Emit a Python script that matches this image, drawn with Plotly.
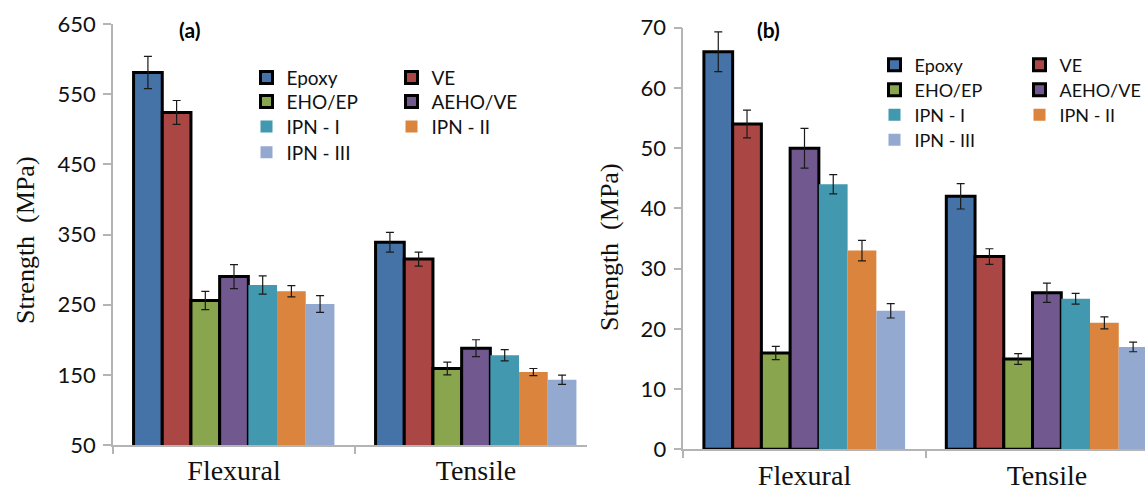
import plotly.graph_objects as go

W, H = 1145, 491

categories = ["Flexural", "Tensile"]
series = ["Epoxy", "VE", "EHO/EP", "AEHO/VE", "IPN - I", "IPN - II", "IPN - III"]
colors = ["#4572A7", "#AA4643", "#89A54E", "#71588F", "#4198AF", "#DB843D", "#93A9CF"]
outlined = [True, True, True, True, False, False, False]

# Panel (a)
a_flexural = [581, 524, 256, 290, 278, 269, 251]
a_flexural_err = [23, 17, 13, 17, 13, 8, 12]
a_tensile = [339, 315, 159, 188, 178, 154, 143]
a_tensile_err = [14, 10, 9, 12, 8, 5, 6.5]

# Panel (b)
b_flexural = [66, 54, 16, 50, 44, 33, 23]
b_flexural_err = [3.3, 2.3, 1.1, 3.3, 1.6, 1.7, 1.2]
b_tensile = [42, 32, 15, 26, 25, 21, 17]
b_tensile_err = [2.1, 1.3, 0.9, 1.6, 0.9, 1.0, 0.8]

a_yticks = [50, 150, 250, 350, 450, 550, 650]
b_yticks = [0, 10, 20, 30, 40, 50, 60, 70]

legend_rows = [0, 0, 1, 1, 2, 2, 3]


def px(x):
    return x / W


def py(y):
    return 1 - y / H


fig = go.Figure()

panels = [
    dict(xa="x", ya="y", flex=a_flexural, flex_err=a_flexural_err,
         tens=a_tensile, tens_err=a_tensile_err, legends=["legend", "legend2", "legend3", "legend4"]),
    dict(xa="x2", ya="y2", flex=b_flexural, flex_err=b_flexural_err,
         tens=b_tensile, tens_err=b_tensile_err, legends=["legend5", "legend6", "legend7", "legend8"]),
]

for p in panels:
    for i, name in enumerate(series):
        fig.add_trace(go.Bar(
            x=categories,
            y=[p["flex"][i], p["tens"][i]],
            name=name,
            xaxis=p["xa"], yaxis=p["ya"],
            legend=p["legends"][legend_rows[i]],
            marker=dict(color=colors[i],
                        line=dict(color="#000000", width=3 if outlined[i] else 0)),
            error_y=dict(type="data", array=[p["flex_err"][i], p["tens_err"][i]],
                         color="#1a1a1a", thickness=1.2, width=4),
        ))

axis_color = "#b4b4b4"
SANS = "Lato, Open Sans, sans-serif"
SERIF = "Liberation Serif, Times New Roman, serif"
tick_font = dict(family=SANS, size=22, color="#111111")
cat_font = dict(family=SERIF, size=28, color="#111111")

common_x = dict(type="category", showline=True, linecolor=axis_color, linewidth=1.5,
                ticks="outside", tickson="boundaries", ticklen=7, tickcolor=axis_color,
                tickwidth=1.5, tickfont=cat_font, showgrid=False, zeroline=False,
                fixedrange=True, automargin=False)
common_y = dict(showline=True, linecolor=axis_color, linewidth=1.5, ticks="outside",
                ticklen=8, tickcolor=axis_color, tickwidth=1.5, tickfont=tick_font,
                ticklabelstandoff=3,
                showgrid=False, zeroline=False, fixedrange=True, automargin=False)

fig.update_layout(
    template="none",
    width=W, height=H,
    margin=dict(l=0, r=0, t=0, b=0, autoexpand=False),
    paper_bgcolor="white", plot_bgcolor="white",
    barmode="group", bargap=0.17, bargroupgap=0,
    xaxis=dict(common_x, domain=[px(113), px(587)], range=[-0.5, -0.5 + 474 / 242], anchor="y"),
    yaxis=dict(common_y, domain=[py(445), py(24)], range=[50, 650], tickvals=a_yticks, anchor="x"),
    xaxis2=dict(common_x, domain=[px(683.3), 1.0], range=[-0.5, -0.5 + 461.7 / 242.4], anchor="y2"),
    yaxis2=dict(common_y, domain=[py(449.3), py(27.7)], range=[0, 70], tickvals=b_yticks, anchor="x2"),
    showlegend=True,
)

a_rows_y = [77.7, 101.7, 126.7, 152.3]
b_rows_y = [65, 90, 115, 140]
a_left = 266.5 - 20
b_left = 894.5 - 20
leg_updates = {}
for k in range(4):
    for (names, rows_y, left, ew, fs) in [
        (["legend", "legend2", "legend3", "legend4"], a_rows_y, a_left, 100, 19),
        (["legend5", "legend6", "legend7", "legend8"], b_rows_y, b_left, 100, 18),
    ]:
        leg_updates[names[k]] = dict(
            orientation="h", x=px(left), y=py(rows_y[k]), xanchor="left", yanchor="middle",
            entrywidth=ew, entrywidthmode="pixels",
            font=dict(family=SANS, size=fs, color="#111111"),
            bgcolor="rgba(0,0,0,0)", borderwidth=0, itemwidth=30, traceorder="normal",
        )
fig.update_layout(**leg_updates)

title_font = dict(family=SERIF, size=26, color="#111111")
fig.add_annotation(text="Strength\u00a0\u00a0(MPa)", textangle=-90, xref="paper", yref="paper",
                   x=px(25), y=py(240), xanchor="center", yanchor="middle", showarrow=False,
                   font=title_font)
fig.add_annotation(text="Strength\u00a0\u00a0(MPa)", textangle=-90, xref="paper", yref="paper",
                   x=px(609), y=py(247), xanchor="center", yanchor="middle", showarrow=False,
                   font=title_font)

lab_font = dict(family=SANS, size=21, color="#000000")
fig.add_annotation(text="<b>(a)</b>", xref="paper", yref="paper", x=px(189), y=py(30),
                   xanchor="center", yanchor="middle", showarrow=False, font=lab_font)
fig.add_annotation(text="<b>(b)</b>", xref="paper", yref="paper", x=px(769), y=py(30),
                   xanchor="center", yanchor="middle", showarrow=False, font=lab_font)

fig.write_html(
    "out.html",
    config={"displayModeBar": False},
    post_script="document.body.style.margin='0';document.body.style.overflow='hidden';",
)
